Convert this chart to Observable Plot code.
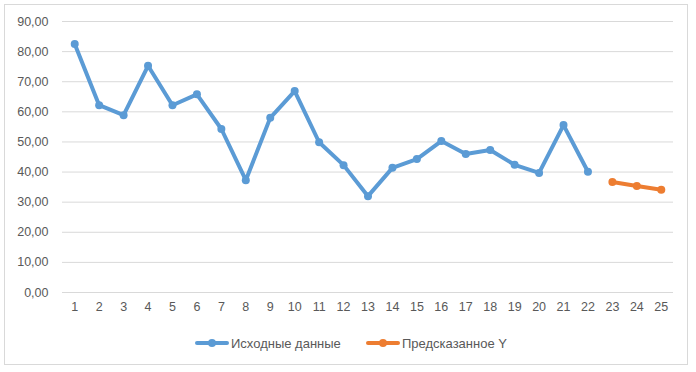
<!DOCTYPE html>
<html>
<head>
<meta charset="utf-8">
<script src="https://cdn.jsdelivr.net/npm/d3@7"></script>
<script src="https://cdn.jsdelivr.net/npm/@observablehq/plot@0.6"></script>
<style>
  html, body { margin: 0; padding: 0; background: #fff; }
  #wrap { position: relative; width: 696px; height: 372px; overflow: hidden; font-family: "Liberation Sans", Arial, sans-serif; }
  #frame { position: absolute; left: 4px; top: 4px; width: 684px; height: 361px; border: 1px solid #d9d9d9; box-sizing: border-box; }
  #chart { position: absolute; left: 0; top: 0; }
  #legend { position: absolute; top: 333px; left: 0; width: 696px; height: 20px; font-size: 13px; color: #595959; }
  .item { position: absolute; top: 0; display: flex; align-items: center; height: 20px; white-space: nowrap; }
  .swatch { display: inline-block; margin-right: 2px; }
</style>
</head>
<body>
<div id="wrap">
  <div id="frame"></div>
  <div id="chart"></div>
  <div id="legend"></div>
</div>
<script>
const categories = [1,2,3,4,5,6,7,8,9,10,11,12,13,14,15,16,17,18,19,20,21,22,23,24,25];
const actualX = [1,2,3,4,5,6,7,8,9,10,11,12,13,14,15,16,17,18,19,20,21,22];
const actualY = [82.5,62.2,58.9,75.3,62.2,65.8,54.3,37.3,58.0,66.9,49.9,42.3,32.0,41.4,44.3,50.3,46.0,47.3,42.4,39.7,55.6,40.1];
const predX = [23,24,25];
const predY = [36.7,35.4,34.1];
const yTicks = [0,10,20,30,40,50,60,70,80,90];
const seriesNames = ["Исходные данные", "Предсказанное Y"];
const seriesColors = ["#5b9bd5", "#ed7d31"];

const actual = actualX.map((x, i) => ({x, y: actualY[i]}));
const pred = predX.map((x, i) => ({x, y: predY[i]}));
const fmt = v => d3.format(".2f")(v).replace(".", ",");

const chart = Plot.plot({
  width: 696,
  height: 325,
  marginLeft: 62,
  marginRight: 23,
  marginTop: 21,
  marginBottom: 33,
  style: { fontFamily: "Liberation Sans, Arial, sans-serif", fontSize: "12.5px", color: "#595959", background: "transparent" },
  x: { type: "linear", domain: [categories[0] - 0.5, categories[categories.length - 1] + 0.5], axis: null, label: null },
  y: { domain: [0, 90], axis: null, label: null },
  marks: [
    Plot.gridY(yTicks, { stroke: "#d9d9d9", strokeOpacity: 1, strokeWidth: 1 }),
    Plot.axisY(yTicks, { tickSize: 0, tickPadding: 14, tickFormat: fmt, fill: "#595959", fontSize: 12.5, label: null }),
    Plot.axisX(categories, { tickSize: 0, tickPadding: 10, tickFormat: d => String(d), fill: "#595959", fontSize: 12.5, anchor: "bottom", label: null }),
    Plot.line(actual, { x: "x", y: "y", stroke: seriesColors[0], strokeWidth: 4, strokeLinejoin: "round", strokeLinecap: "round" }),
    Plot.dot(actual, { x: "x", y: "y", fill: seriesColors[0], r: 4, stroke: "none" }),
    Plot.line(pred, { x: "x", y: "y", stroke: seriesColors[1], strokeWidth: 4, strokeLinejoin: "round", strokeLinecap: "round" }),
    Plot.dot(pred, { x: "x", y: "y", fill: seriesColors[1], r: 4, stroke: "none" })
  ]
});
document.getElementById("chart").appendChild(chart);

const legend = document.getElementById("legend");
const positions = [195, 366];
seriesNames.forEach((name, i) => {
  const item = document.createElement("div");
  item.className = "item";
  item.style.left = positions[i] + "px";
  item.innerHTML = `<svg class="swatch" width="34" height="10"><line x1="2" y1="5" x2="32" y2="5" stroke="${seriesColors[i]}" stroke-width="4" stroke-linecap="round"/><circle cx="17" cy="5" r="4" fill="${seriesColors[i]}"/></svg><span>${name}</span>`;
  legend.appendChild(item);
});
</script>
</body>
</html>
